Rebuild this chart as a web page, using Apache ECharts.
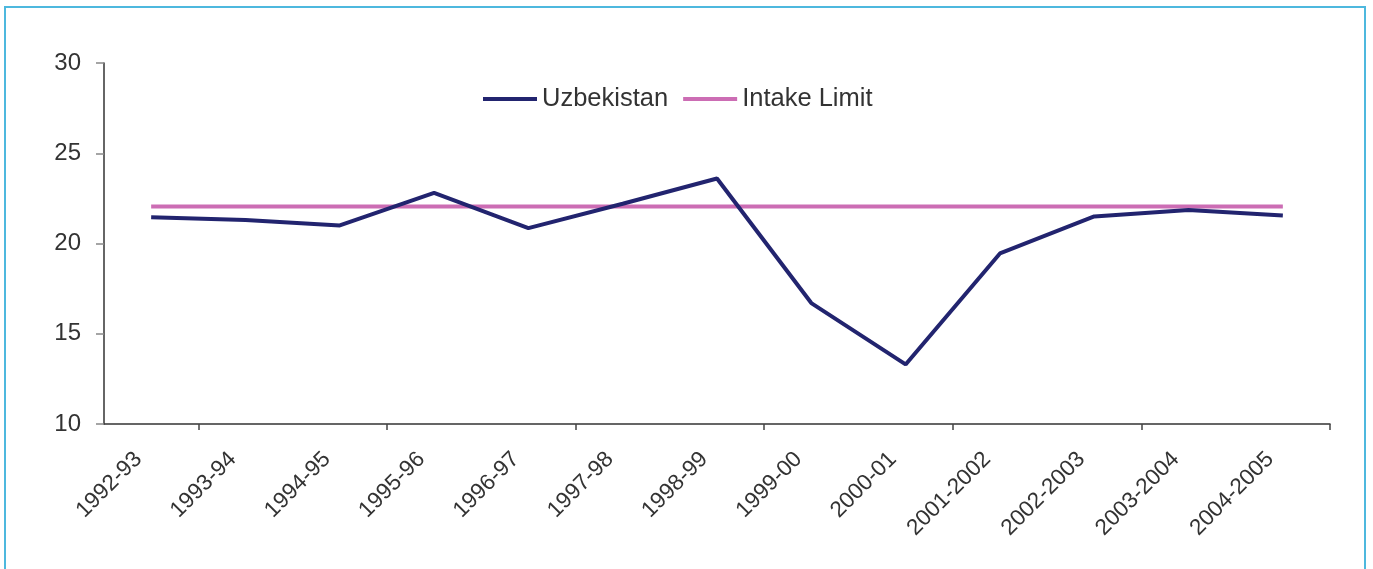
<!DOCTYPE html>
<html>
<head>
<meta charset="utf-8">
<script src="https://cdn.jsdelivr.net/npm/echarts@6/dist/echarts.min.js"></script>
<style>
html,body{margin:0;padding:0;background:#fff;}
#chart{width:1373px;height:569px;}
</style>
</head>
<body>
<div id="chart"></div>
<script>
const categories = ['1992-93','1993-94','1994-95','1995-96','1996-97','1997-98','1998-99','1999-00','2000-01','2001-2002','2002-2003','2003-2004','2004-2005'];
const uzbekistan = [21.45, 21.3, 21.0, 22.8, 20.85, 22.2, 23.6, 16.7, 13.3, 19.45, 21.5, 21.85, 21.55];
const intakeLimit = [22.05, 22.05, 22.05, 22.05, 22.05, 22.05, 22.05, 22.05, 22.05, 22.05, 22.05, 22.05, 22.05];
const yTicks = [10, 15, 20, 25, 30];

const chart = echarts.init(document.getElementById('chart'), null, {renderer: 'canvas'});
const font = 'Liberation Sans, Arial, sans-serif';
chart.setOption({
  animation: false,
  backgroundColor: '#ffffff',
  graphic: [{
    type: 'rect',
    shape: {x: 5, y: 7, width: 1360, height: 620},
    style: {fill: 'none', stroke: '#4DB8DE', lineWidth: 2},
    silent: true
  }],
  legend: {
    left: 483,
    top: 86,
    padding: 0,
    itemWidth: 54,
    itemHeight: 4,
    itemGap: 15,
    icon: 'rect',
    textStyle: {fontFamily: font, fontSize: 25.5, color: '#333333'},
    data: ['Uzbekistan', 'Intake Limit']
  },
  grid: {left: 104, right: 43, top: 63, bottom: 145, outerBoundsMode: 'none', containLabel: false},
  xAxis: {
    type: 'category',
    data: categories,
    boundaryGap: true,
    axisLine: {lineStyle: {color: '#333333', width: 1.5}},
    axisTick: {
      show: true,
      length: 6,
      interval: function (index) { return index % 2 === 1; },
      lineStyle: {color: '#444444', width: 1.5}
    },
    axisLabel: {
      interval: 0,
      rotate: 45,
      margin: 19,
      padding: [0, 18, 0, 0],
      fontFamily: font,
      fontSize: 22.5,
      color: '#333333'
    },
    splitLine: {show: false}
  },
  yAxis: {
    type: 'value',
    min: yTicks[0],
    max: yTicks[yTicks.length - 1],
    interval: 5,
    axisLine: {show: true, lineStyle: {color: '#333333', width: 1.5}},
    axisTick: {show: true, length: 8, lineStyle: {color: '#888888', width: 1.5}},
    axisLabel: {fontFamily: font, fontSize: 24, color: '#333333', margin: 23},
    splitLine: {show: false}
  },
  series: [
    {
      name: 'Uzbekistan',
      type: 'line',
      data: uzbekistan,
      symbol: 'none',
      z: 3,
      color: '#22246F',
      lineStyle: {color: '#22246F', width: 4}
    },
    {
      name: 'Intake Limit',
      type: 'line',
      data: intakeLimit,
      symbol: 'none',
      z: 2,
      color: '#CC6DB4',
      lineStyle: {color: '#CC6DB4', width: 4}
    }
  ]
});
</script>
</body>
</html>
